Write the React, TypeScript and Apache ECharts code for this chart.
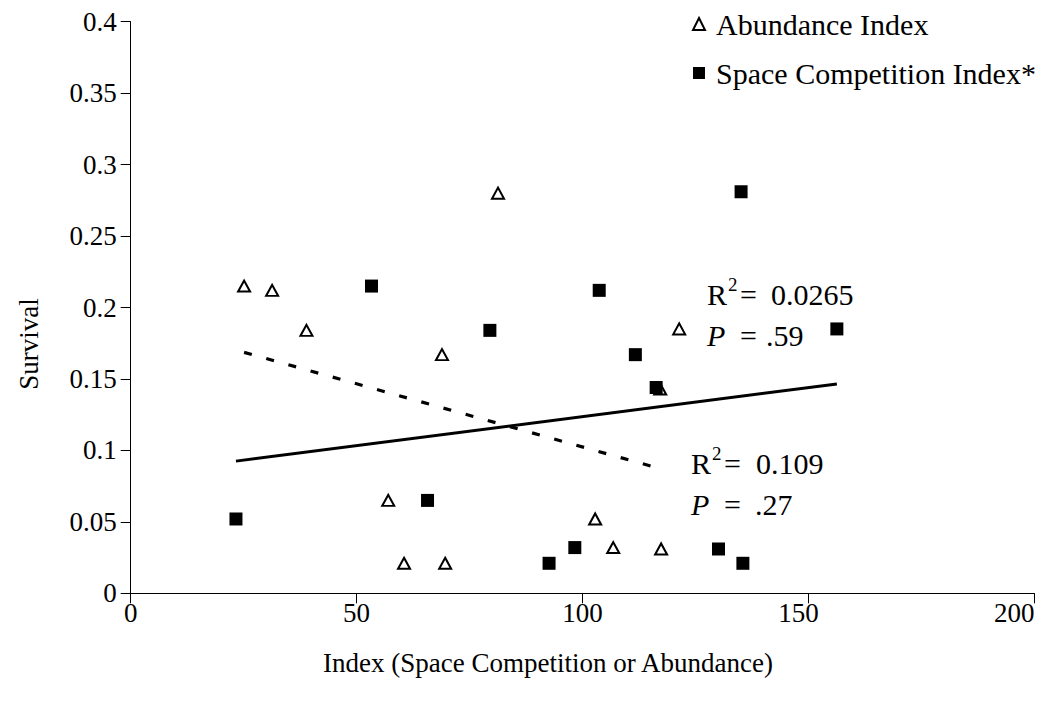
import React, { useEffect, useRef } from "react";
import * as echarts from "echarts";

const abundanceX = [25.1, 31.3, 38.9, 57.0, 60.5, 68.9, 69.6, 81.3, 102.8, 106.8, 117.2, 117.4, 121.4];
const abundanceY = [0.215, 0.212, 0.184, 0.065, 0.021, 0.167, 0.021, 0.280, 0.052, 0.032, 0.143, 0.031, 0.185];
const spaceX = [23.3, 53.3, 65.7, 79.5, 92.6, 98.3, 103.7, 111.7, 116.3, 130.1, 135.1, 135.5, 156.3];
const spaceY = [0.052, 0.215, 0.065, 0.184, 0.021, 0.032, 0.212, 0.167, 0.144, 0.031, 0.281, 0.021, 0.185];
const spaceTrendX = [23.3, 156.3];
const spaceTrendY = [0.0925, 0.1465];
const abundTrendX = [25.1, 118.0];
const abundTrendY = [0.1686, 0.0865];

const FONT = "'Liberation Serif', 'Times New Roman', serif";
const ANN = 30;

export default function App() {
  const ref = useRef<HTMLDivElement>(null);
  useEffect(() => {
    if (!ref.current) return;
    const chart = echarts.init(ref.current, undefined, { renderer: "svg" });
    const zip = (xs: number[], ys: number[]) => xs.map((x, i) => [x, ys[i]]);
    const t = (x: number, y: number, text: string, size: number, italic = false) => ({
      type: "text",
      x,
      y,
      style: {
        text,
        fontSize: size,
        fontFamily: FONT,
        fontStyle: italic ? "italic" : "normal",
        fill: "#000",
        verticalAlign: "middle",
      },
    });
    const labelRich = {
      n: { fontSize: 27, fontFamily: FONT, color: "#000" },
      s150: { fontSize: 27, fontFamily: FONT, color: "#000", padding: [0, 20, 0, 0] },
      s200: { fontSize: 27, fontFamily: FONT, color: "#000", padding: [0, 40, 0, 0] },
    };
    chart.setOption({
      animation: false,
      backgroundColor: "#fff",
      textStyle: { fontFamily: FONT, color: "#000" },
      grid: { left: 130.7, right: 27.7, top: 21.7, bottom: 110.7 },
      xAxis: {
        type: "value",
        min: 0,
        max: 200,
        interval: 50,
        axisLine: { show: true, lineStyle: { color: "#000", width: 1 } },
        axisTick: { show: true, inside: false, length: 10, lineStyle: { color: "#000" } },
        axisLabel: {
          color: "#000",
          fontSize: 27,
          fontFamily: FONT,
          margin: 6,
          formatter: (v: number) => (v === 150 ? `{s150|${v}}` : v === 200 ? `{s200|${v}}` : `{n|${v}}`),
          rich: labelRich,
        },
        splitLine: { show: false },
      },
      yAxis: {
        type: "value",
        min: 0,
        max: 0.4,
        interval: 0.05,
        axisLine: { show: true, lineStyle: { color: "#000", width: 1 } },
        axisTick: { show: true, inside: false, length: 10, lineStyle: { color: "#000" } },
        axisLabel: { color: "#000", fontSize: 27, fontFamily: FONT, margin: 14 },
        splitLine: { show: false },
      },
      legend: {
        orient: "vertical",
        left: 687,
        top: 4,
        itemWidth: 12,
        itemHeight: 12,
        itemGap: 19,
        textStyle: { fontSize: 30, fontFamily: FONT, color: "#000", padding: [0, 0, 0, 6] },
        data: [
          { name: "Abundance Index", icon: "triangle", itemStyle: { color: "#fff", borderColor: "#000", borderWidth: 2 } },
          { name: "Space Competition Index*", icon: "rect", itemStyle: { color: "#000" } },
        ],
      },
      series: [
        {
          type: "line",
          name: "spaceTrend",
          data: zip(spaceTrendX, spaceTrendY),
          symbol: "none",
          lineStyle: { color: "#000", width: 3 },
          z: 1,
        },
        {
          type: "line",
          name: "abundTrend",
          data: zip(abundTrendX, abundTrendY),
          symbol: "none",
          lineStyle: { color: "#000", width: 3.2, type: [8, 15] },
          z: 1,
        },
        {
          type: "scatter",
          name: "Abundance Index",
          data: zip(abundanceX, abundanceY),
          symbol: "triangle",
          symbolSize: [12, 11],
          itemStyle: { color: "#fff", borderColor: "#000", borderWidth: 2, opacity: 1 },
          z: 2,
        },
        {
          type: "scatter",
          name: "Space Competition Index*",
          data: zip(spaceX, spaceY),
          symbol: "rect",
          symbolSize: 13,
          itemStyle: { color: "#000", opacity: 1 },
          z: 3,
        },
      ],
      graphic: [
        {
          type: "text",
          x: 29,
          y: 344,
          rotation: Math.PI / 2,
          style: { text: "Survival", fontSize: 27, fontFamily: FONT, fill: "#000", align: "center", verticalAlign: "middle" },
        },
        {
          type: "text",
          x: 548,
          y: 663,
          style: { text: "Index (Space Competition or Abundance)", fontSize: 27, fontFamily: FONT, fill: "#000", align: "center", verticalAlign: "middle" },
        },
        t(707, 294, "R", ANN),
        t(728, 284, "2", 19),
        t(740, 294, "=", ANN),
        t(771, 294, "0.0265", ANN),
        t(707, 335, "P", ANN, true),
        t(740, 335, "=", ANN),
        t(766, 335, ".59", ANN),
        t(691, 463, "R", ANN),
        t(712, 453, "2", 19),
        t(724, 463, "=", ANN),
        t(756, 463, "0.109", ANN),
        t(691, 504, "P", ANN, true),
        t(724, 504, "=", ANN),
        t(755, 504, ".27", ANN),
      ],
    });
    return () => chart.dispose();
  }, []);
  return <div ref={ref} style={{ width: 1062, height: 704, position: "absolute", left: 0, top: 0 }} />;
}
